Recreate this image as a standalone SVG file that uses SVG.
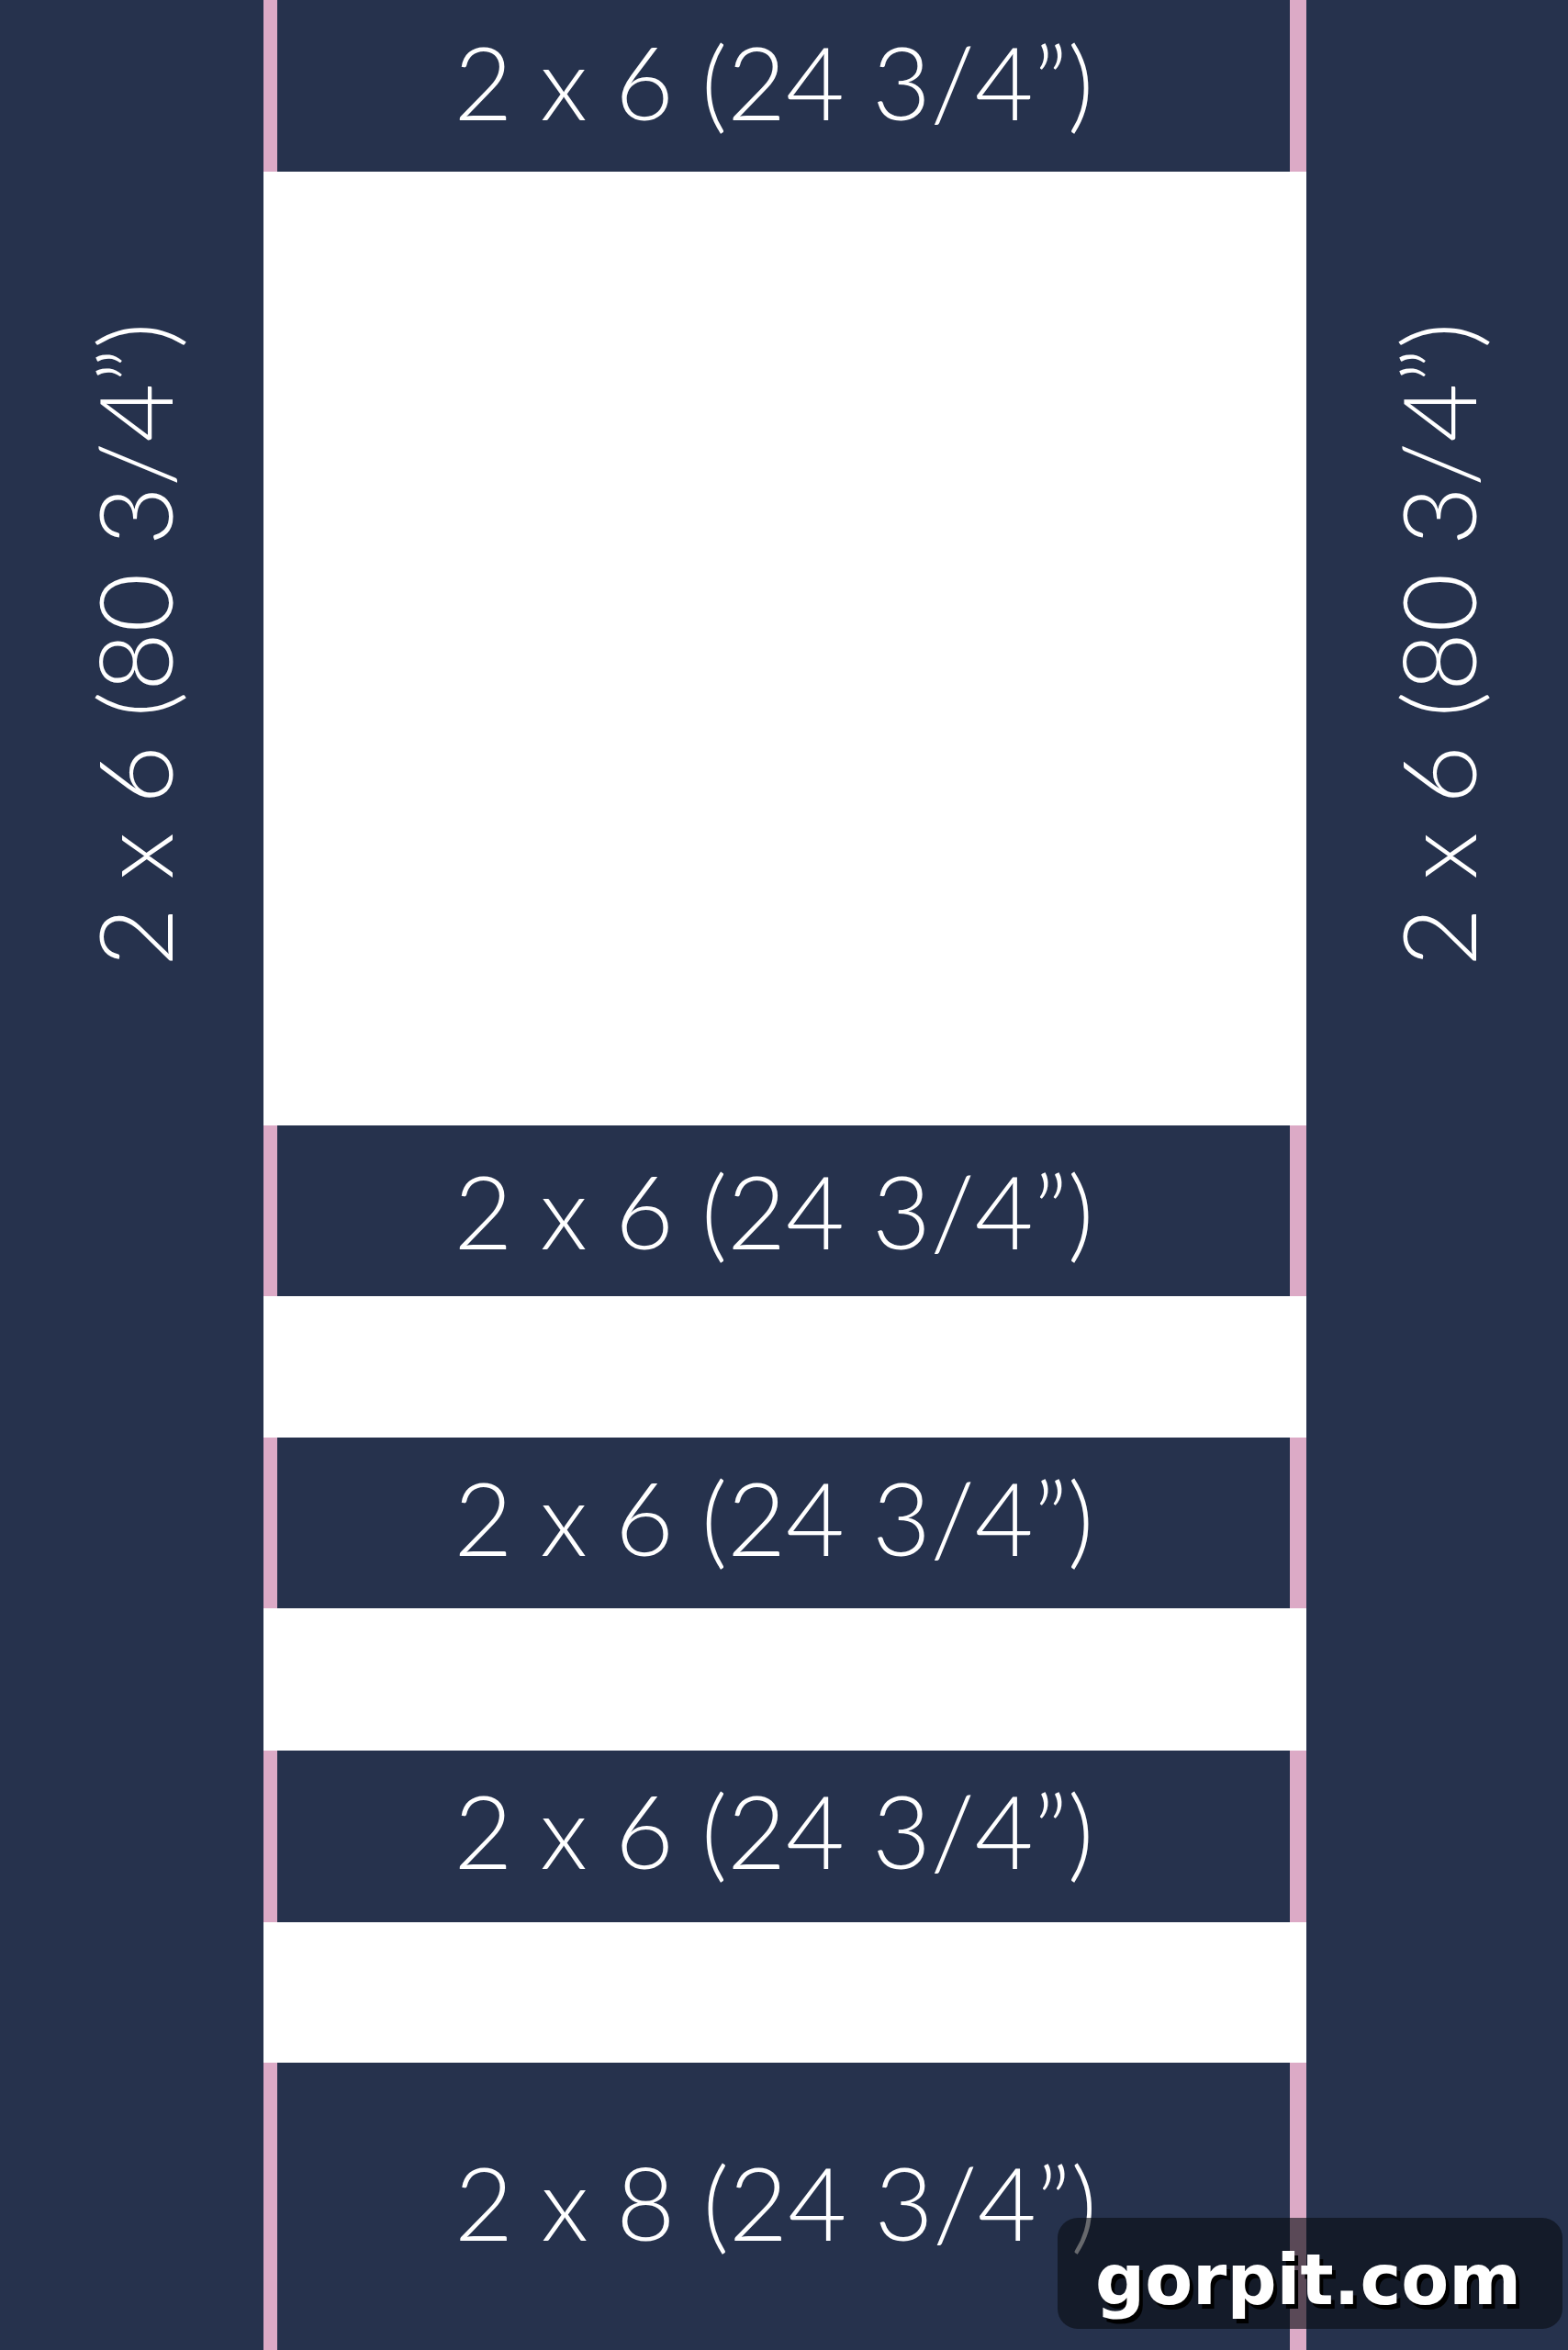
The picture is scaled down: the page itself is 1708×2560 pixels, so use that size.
<svg xmlns="http://www.w3.org/2000/svg" width="1708" height="2560" viewBox="0 0 1708 2560">
<style>
.board{fill:#26324d}
.pink{fill:#dcaac6}
.lbl{font-family:Lato,"Open Sans","Noto Sans",sans-serif;font-weight:300;font-size:110px;fill:#ffffff;text-anchor:middle}
.wm{font-family:"DejaVu Sans",sans-serif;font-weight:bold;font-size:77px}
</style>
<rect width="1708" height="2560" fill="#ffffff"/>
<g id="left-post">
<rect class="board" x="0" y="0" width="287" height="2560"/>
<text class="lbl" transform="translate(188,702) rotate(-90)" textLength="702" lengthAdjust="spacingAndGlyphs">2 x 6 (80 3/4”)</text>
</g>
<g id="right-post">
<rect class="board" x="1423" y="0" width="285" height="2560"/>
<text class="lbl" transform="translate(1608,702) rotate(-90)" textLength="702" lengthAdjust="spacingAndGlyphs">2 x 6 (80 3/4”)</text>
</g>
<g id="board-1">
<rect class="pink" x="287" y="0" width="15" height="187"/>
<rect class="pink" x="1405" y="0" width="18" height="187"/>
<rect class="board" x="302" y="0" width="1103" height="187"/>
<text class="lbl" x="843" y="131" textLength="697" lengthAdjust="spacingAndGlyphs">2 x 6 (24 3/4”)</text>
</g>
<g id="board-2">
<rect class="pink" x="287" y="1226" width="15" height="186"/>
<rect class="pink" x="1405" y="1226" width="18" height="186"/>
<rect class="board" x="302" y="1226" width="1103" height="186"/>
<text class="lbl" x="843" y="1361" textLength="697" lengthAdjust="spacingAndGlyphs">2 x 6 (24 3/4”)</text>
</g>
<g id="board-3">
<rect class="pink" x="287" y="1566" width="15" height="186"/>
<rect class="pink" x="1405" y="1566" width="18" height="186"/>
<rect class="board" x="302" y="1566" width="1103" height="186"/>
<text class="lbl" x="843" y="1695" textLength="697" lengthAdjust="spacingAndGlyphs">2 x 6 (24 3/4”)</text>
</g>
<g id="board-4">
<rect class="pink" x="287" y="1907" width="15" height="187"/>
<rect class="pink" x="1405" y="1907" width="18" height="187"/>
<rect class="board" x="302" y="1907" width="1103" height="187"/>
<text class="lbl" x="843" y="2036" textLength="697" lengthAdjust="spacingAndGlyphs">2 x 6 (24 3/4”)</text>
</g>
<g id="board-5">
<rect class="pink" x="287" y="2247" width="15" height="313"/>
<rect class="pink" x="1405" y="2247" width="18" height="313"/>
<rect class="board" x="302" y="2247" width="1103" height="313"/>
<text class="lbl" x="845" y="2441" textLength="700" lengthAdjust="spacingAndGlyphs">2 x 8 (24 3/4”)</text>
</g>
<g id="connectors"/>
<g id="watermark">
<rect x="1152" y="2416" width="550" height="121" rx="22" fill="#0a0d14" fill-opacity="0.62"/>
<text class="wm" x="1197" y="2515" fill="#000000" textLength="464" lengthAdjust="spacingAndGlyphs">gorpit.com</text>
<text class="wm" x="1193" y="2510" fill="#ffffff" textLength="464" lengthAdjust="spacingAndGlyphs">gorpit.com</text>
</g>
</svg>
